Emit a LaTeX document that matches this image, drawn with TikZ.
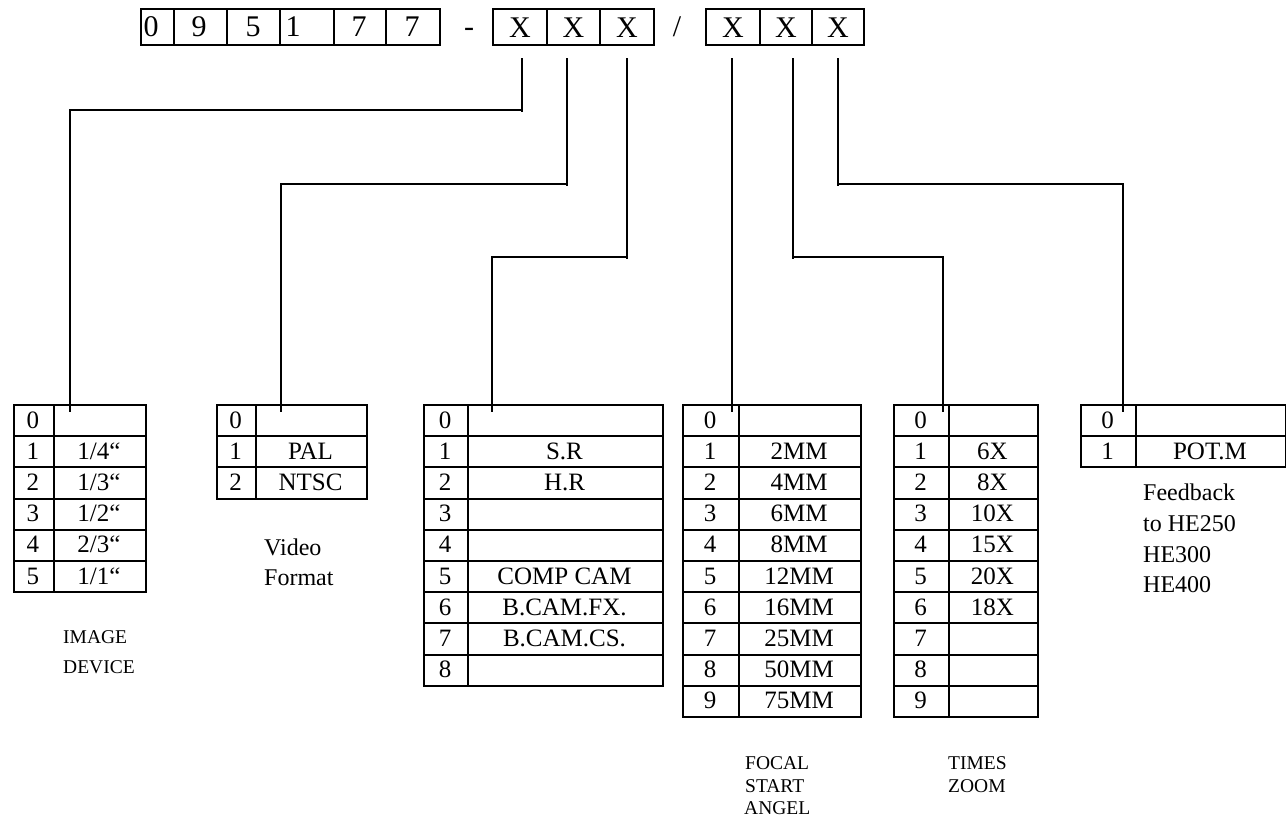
\documentclass[tikz,border=0pt]{standalone}
\usepackage{fontspec}
\setmainfont{Liberation Serif}
\usetikzlibrary{calc}
\newcommand\mktable[6]{%
  \foreach \v [count=\i from 0] in {#6} {%
    \pgfmathsetmacro\cellwd{#3-#2}%
    \pgfmathsetmacro\cellwv{#4-#3}%
    \pgfmathsetmacro\cellyy{#5+31.2*\i}%
    \pgfmathsetmacro\cellby{#5+31.2*\i+24}%
    \pgfmathsetmacro\cellcd{(#2+#3)/2}%
    \pgfmathsetmacro\cellcv{(#3+#4)/2}%
    \node[cell,minimum width=\cellwd pt] (#1d\i) at (#2,\cellyy) {};
    \node[cell,minimum width=\cellwv pt] (#1v\i) at (#3,\cellyy) {};
    \node[txt] (#1dt\i) at (\cellcd,\cellby) {\i};
    \node[txt] (#1vt\i) at (\cellcv,\cellby) {\v};
  }%
}
\begin{document}
\begin{tikzpicture}[x=1pt,y=-1pt,
  box/.style={draw,line width=1.9pt,anchor=north west,inner sep=0pt,minimum height=36pt},
  cell/.style={draw,line width=1.9pt,anchor=north west,inner sep=0pt,minimum height=31.2pt},
  big/.style={font=\fontsize{30}{30}\selectfont,inner sep=0pt,anchor=base},
  txt/.style={font=\fontsize{25}{25}\selectfont,inner sep=0pt,anchor=base},
  lbl/.style={font=\fontsize{24}{24}\selectfont,inner sep=0pt,anchor=base west},
  small/.style={font=\fontsize{19.5}{19.5}\selectfont,inner sep=0pt,anchor=base west},
  wire/.style={line width=1.3pt}]
\useasboundingbox (0,0) rectangle (1286,820);

% top code row
\foreach \a/\b/\n in {140/173/ga,173/226/gb,226/279/gc,279/333/gd,333/385/ge,385/439/gf,
                      492/546/xa,546/599/xb,599/653/xc,705/759/xd,759/811/xe,811/863/xf} {
  \pgfmathsetmacro\boxw{\b-\a}
  \node[box,minimum width=\boxw pt] (\n) at (\a,8) {};
}
\node[big] (tga) at (151,36) {0};
\node[big] (tgb) at (199,36) {9};
\node[big] (tgc) at (253,36) {5};
\node[big] (tgd) at (293,36) {1};
\node[big] (tge) at (359,36) {7};
\node[big] (tgf) at (412,36) {7};
\node[big] (dash) at (469,36) {-};
\node[big] (slash) at (677,36) {/};
\foreach \n in {xa,xb,xc,xd,xe,xf} {\node[big] (t\n) at ($(\n.center)+(0,10.5)$) {X};}

% tables
\mktable{ta}{13}{53}{145}{404}{{},1/4“,1/3“,1/2“,2/3“,1/1“}
\mktable{tb}{216}{255}{366}{404}{{},PAL,NTSC}
\mktable{tc}{423}{467}{662}{404}{{},S.R,H.R,{},{},COMP CAM,B.CAM.FX.,B.CAM.CS.,{}}
\mktable{td}{682}{738}{860}{404}{{},2MM,4MM,6MM,8MM,12MM,16MM,25MM,50MM,75MM}
\mktable{te}{893}{948}{1037}{404}{{},6X,8X,10X,15X,20X,18X,{},{},{}}
\mktable{tf}{1080}{1135}{1285}{404}{{},POT.M}

% connectors
\coordinate (s1) at (522,58);  \coordinate (k1) at (0,110); \coordinate (e1) at (70,412);
\coordinate (s2) at (567,58);  \coordinate (k2) at (0,184); \coordinate (e2) at (281,412);
\coordinate (s3) at (627,58);  \coordinate (k3) at (0,257); \coordinate (e3) at (492,412);
\coordinate (s4) at (732,58);  \coordinate (e4) at (732,412);
\coordinate (s5) at (793,58);  \coordinate (e5) at (943,412);
\coordinate (s6) at (838,58);  \coordinate (e6) at (1123,412);
\draw[wire] (s1) -- ($(s1 |- k1)+(0,2)$);
\draw[wire] (s1 |- k1) -| (e1);
\draw[wire] (s2) -- ($(s2 |- k2)+(0,2)$);
\draw[wire] (s2 |- k2) -| (e2);
\draw[wire] (s3) -- ($(s3 |- k3)+(0,2)$);
\draw[wire] (s3 |- k3) -| (e3);
\draw[wire] (s4) -- (e4);
\draw[wire] (s5) -- ($(s5 |- k3)+(0,2)$);
\draw[wire] (s5 |- k3) -| (e5);
\draw[wire] (s6) -- ($(s6 |- k2)+(0,2)$);
\draw[wire] (s6 |- k2) -| (e6);

% labels
\node[small] (limg1) at (63,643.5) {IMAGE};
\node[small] (limg2) at (63,673.5) {DEVICE};
\node[lbl] (lvid1) at (264,555) {Video};
\node[lbl] (lvid2) at (264,585) {Format};
\node[lbl] (lfb1) at (1143,500) {Feedback};
\node[lbl] (lfb2) at (1143,531) {to HE250};
\node[lbl] (lfb3) at (1143,562) {HE300};
\node[lbl] (lfb4) at (1143,592) {HE400};
\node[small] (lfoc1) at (745,769.5) {FOCAL};
\node[small] (lfoc2) at (745,792) {START};
\node[small] (lfoc3) at (744,814.5) {ANGEL};
\node[small] (ltim1) at (948,769.5) {TIMES};
\node[small] (ltim2) at (948,792) {ZOOM};
\end{tikzpicture}
\end{document}
